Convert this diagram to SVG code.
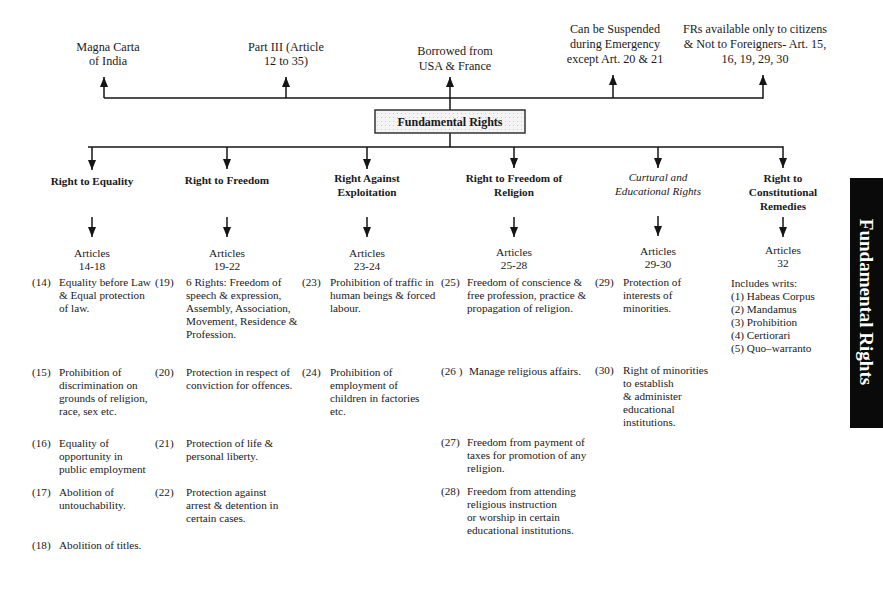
<svg xmlns="http://www.w3.org/2000/svg" width="883" height="599" viewBox="0 0 883 599">
<style>
text{font-family:"Liberation Serif","Times New Roman",serif;fill:#1a1a1a}
.top{font-size:12.2px;text-anchor:middle}
.hd{font-size:11.2px;font-weight:bold;text-anchor:middle}
.hi{font-size:11.2px;font-style:italic;text-anchor:middle}
.art{font-size:11.4px;text-anchor:middle}
.it{font-size:11.2px}
.ln{stroke:#151515;stroke-width:1.5;fill:none}
.ar{stroke:#151515;stroke-width:1.5;fill:none;marker-end:url(#ah)}
</style>
<defs>
<marker id="ah" viewBox="0 0 10 8" refX="10" refY="4" markerWidth="10" markerHeight="8" markerUnits="userSpaceOnUse" orient="auto">
<path d="M0,0 L10,4 L0,8 z" fill="#151515"/>
</marker>
<pattern id="stip" width="4" height="4" patternUnits="userSpaceOnUse">
<rect width="4" height="4" fill="#f4f4f4"/>
<rect x="1" y="1" width="1" height="1" fill="#c8c8c8"/>
</pattern>
</defs>
<rect width="883" height="599" fill="#ffffff"/>

<g id="connectors">
<path class="ln" d="M104,98 H763"/>
<line class="ar" x1="104" y1="98" x2="104" y2="77"/>
<line class="ar" x1="286" y1="98" x2="286" y2="77"/>
<line class="ar" x1="450" y1="110" x2="450" y2="77"/>
<line class="ar" x1="613" y1="98" x2="613" y2="75"/>
<line class="ar" x1="763" y1="98.75" x2="763" y2="75"/>
<path class="ln" d="M450,133 V147"/>
<path class="ln" d="M88,147 H783"/>
<line class="ar" x1="92" y1="147" x2="92" y2="170"/>
<line class="ar" x1="227" y1="147" x2="227" y2="169"/>
<line class="ar" x1="367" y1="147" x2="367" y2="169"/>
<line class="ar" x1="514" y1="147" x2="514" y2="168"/>
<line class="ar" x1="658" y1="147" x2="658" y2="168"/>
<line class="ar" x1="783" y1="146.25" x2="783" y2="168"/>
<line class="ar" x1="92" y1="217" x2="92" y2="237"/>
<line class="ar" x1="227" y1="217" x2="227" y2="237"/>
<line class="ar" x1="367" y1="217" x2="367" y2="237"/>
<line class="ar" x1="514" y1="217" x2="514" y2="237"/>
<line class="ar" x1="658" y1="216" x2="658" y2="236"/>
<line class="ar" x1="783" y1="217" x2="783" y2="237"/>
</g>

<g id="magna-carta"><text class="top" x="108" y="51">Magna Carta</text><text class="top" x="108" y="65">of India</text></g>
<g id="part-iii"><text class="top" x="286" y="51">Part III (Article</text><text class="top" x="286" y="65">12 to 35)</text></g>
<g id="borrowed"><text class="top" x="455" y="55">Borrowed from</text><text class="top" x="455" y="70">USA &amp; France</text></g>
<g id="suspended"><text class="top" x="615" y="33">Can be Suspended</text><text class="top" x="615" y="48">during Emergency</text><text class="top" x="615" y="63">except Art. 20 &amp; 21</text></g>
<g id="citizens"><text class="top" x="755" y="33">FRs available only to citizens</text><text class="top" x="755" y="48">&amp; Not to Foreigners- Art. 15,</text><text class="top" x="755" y="63">16, 19, 29, 30</text></g>

<g id="fundamental-rights">
<rect x="375" y="110" width="150" height="23" fill="url(#stip)" stroke="#333" stroke-width="1.5"/>
<text class="hd" x="450" y="126" style="font-size:12px">Fundamental Rights</text>
</g>

<g id="equality">
<text class="hd" x="92" y="185">Right to Equality</text>
<text class="art" x="92" y="257">Articles</text><text class="art" x="92" y="270">14-18</text>
<text class="it" x="32" y="286">(14)</text><text class="it" x="59" y="286">Equality before Law</text><text class="it" x="59" y="299">&amp; Equal protection</text><text class="it" x="59" y="312">of law.</text>
<text class="it" x="32" y="376">(15)</text><text class="it" x="59" y="376">Prohibition of</text><text class="it" x="59" y="389">discrimination on</text><text class="it" x="59" y="402">grounds of religion,</text><text class="it" x="59" y="415">race, sex etc.</text>
<text class="it" x="32" y="447">(16)</text><text class="it" x="59" y="447">Equality of</text><text class="it" x="59" y="460">opportunity in</text><text class="it" x="59" y="473">public employment</text>
<text class="it" x="32" y="496">(17)</text><text class="it" x="59" y="496">Abolition of</text><text class="it" x="59" y="509">untouchability.</text>
<text class="it" x="32" y="549">(18)</text><text class="it" x="59" y="549">Abolition of titles.</text>
</g>

<g id="freedom">
<text class="hd" x="227" y="184">Right to Freedom</text>
<text class="art" x="227" y="257">Articles</text><text class="art" x="227" y="270">19-22</text>
<text class="it" x="155" y="286">(19)</text><text class="it" x="186" y="286">6 Rights: Freedom of</text><text class="it" x="186" y="299">speech &amp; expression,</text><text class="it" x="186" y="312">Assembly, Association,</text><text class="it" x="186" y="325">Movement, Residence &amp;</text><text class="it" x="186" y="338">Profession.</text>
<text class="it" x="155" y="376">(20)</text><text class="it" x="186" y="376">Protection in respect of</text><text class="it" x="186" y="389">conviction for offences.</text>
<text class="it" x="155" y="447">(21)</text><text class="it" x="186" y="447">Protection of life &amp;</text><text class="it" x="186" y="460">personal liberty.</text>
<text class="it" x="155" y="496">(22)</text><text class="it" x="186" y="496">Protection against</text><text class="it" x="186" y="509">arrest &amp; detention in</text><text class="it" x="186" y="522">certain cases.</text>
</g>

<g id="exploitation">
<text class="hd" x="367" y="182">Right Against</text><text class="hd" x="367" y="196">Exploitation</text>
<text class="art" x="367" y="257">Articles</text><text class="art" x="367" y="270">23-24</text>
<text class="it" x="302" y="286">(23)</text><text class="it" x="330" y="286">Prohibition of traffic in</text><text class="it" x="330" y="299">human beings &amp; forced</text><text class="it" x="330" y="312">labour.</text>
<text class="it" x="302" y="376">(24)</text><text class="it" x="330" y="376">Prohibition of</text><text class="it" x="330" y="389">employment of</text><text class="it" x="330" y="402">children in factories</text><text class="it" x="330" y="415">etc.</text>
</g>

<g id="religion">
<text class="hd" x="514" y="182">Right to Freedom of</text><text class="hd" x="514" y="196">Religion</text>
<text class="art" x="514" y="256">Articles</text><text class="art" x="514" y="269">25-28</text>
<text class="it" x="441" y="286">(25)</text><text class="it" x="467" y="286">Freedom of conscience &amp;</text><text class="it" x="467" y="299">free profession, practice &amp;</text><text class="it" x="467" y="312">propagation of religion.</text>
<text class="it" x="441" y="375">(26 )</text><text class="it" x="469" y="375">Manage religious affairs.</text>
<text class="it" x="441" y="446">(27)</text><text class="it" x="467" y="446">Freedom from payment of</text><text class="it" x="467" y="459">taxes for promotion of any</text><text class="it" x="467" y="472">religion.</text>
<text class="it" x="441" y="495">(28)</text><text class="it" x="467" y="495">Freedom from attending</text><text class="it" x="467" y="508">religious instruction</text><text class="it" x="467" y="521">or worship in certain</text><text class="it" x="467" y="534">educational institutions.</text>
</g>

<g id="cultural">
<text class="hi" x="658" y="181">Curtural and</text><text class="hi" x="658" y="195">Educational Rights</text>
<text class="art" x="658" y="255">Articles</text><text class="art" x="658" y="268">29-30</text>
<text class="it" x="595" y="286">(29)</text><text class="it" x="623" y="286">Protection of</text><text class="it" x="623" y="299">interests of</text><text class="it" x="623" y="312">minorities.</text>
<text class="it" x="595" y="374">(30)</text><text class="it" x="623" y="374">Right of minorities</text><text class="it" x="623" y="387">to establish</text><text class="it" x="623" y="400">&amp; administer</text><text class="it" x="623" y="413">educational</text><text class="it" x="623" y="426">institutions.</text>
</g>

<g id="remedies">
<text class="hd" x="783" y="182">Right to</text><text class="hd" x="783" y="196">Constitutional</text><text class="hd" x="783" y="210">Remedies</text>
<text class="art" x="783" y="254">Articles</text><text class="art" x="783" y="267">32</text>
<text class="it" x="731" y="287">Includes writs:</text>
<text class="it" x="731" y="300">(1) Habeas Corpus</text>
<text class="it" x="731" y="313">(2) Mandamus</text>
<text class="it" x="731" y="326">(3) Prohibition</text>
<text class="it" x="731" y="339">(4) Certiorari</text>
<text class="it" x="731" y="352">(5) Quo–warranto</text>
</g>

<g id="side-tab">
<rect x="850" y="178" width="33" height="250" fill="#0a0a0a"/>
<text x="866" y="302" transform="rotate(90 866 302)" text-anchor="middle" dominant-baseline="central" style="font-size:19px;font-weight:bold;fill:#ffffff">Fundamental Rights</text>
</g>
</svg>
